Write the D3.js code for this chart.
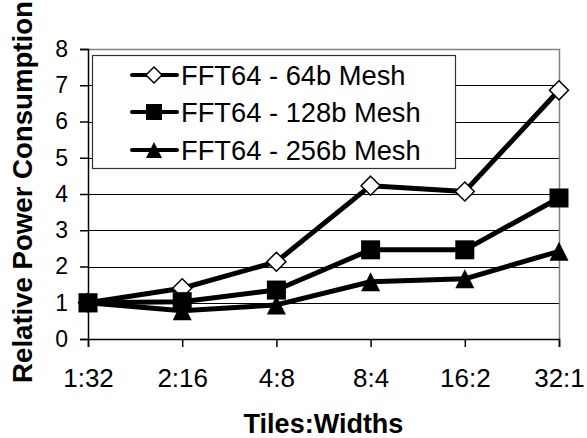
<!DOCTYPE html>
<html>
<head>
<meta charset="utf-8">
<script src="https://cdn.jsdelivr.net/npm/d3@7"></script>
<style>
  body { margin: 0; background: #fff; }
  svg { font-family: Arial, "Liberation Sans", sans-serif; }
</style>
</head>
<body>
<div id="chart"></div>
<script>
var svgWidth = 587;
var svgHeight = 438;

var margin = { top: 49, right: 28, bottom: 99, left: 88 };
var width = svgWidth - margin.left - margin.right;
var height = svgHeight - margin.top - margin.bottom;

// Data
var categories = ["1:32", "2:16", "4:8", "8:4", "16:2", "32:1"];
var mesh64 = [1, 1.4, 2.13, 4.23, 4.07, 6.86];
var mesh128 = [1, 1.03, 1.35, 2.46, 2.46, 3.89];
var mesh256 = [1, 0.78, 0.94, 1.58, 1.66, 2.42];
var yTicks = [0, 1, 2, 3, 4, 5, 6, 7, 8];

var series = [
    { name: "FFT64 - 64b Mesh", values: mesh64, marker: "diamond" },
    { name: "FFT64 - 128b Mesh", values: mesh128, marker: "square" },
    { name: "FFT64 - 256b Mesh", values: mesh256, marker: "triangle" }
];

var svg = d3.select("#chart")
    .append("svg")
    .attr("width", svgWidth)
    .attr("height", svgHeight);

var chartGroup = svg.append("g")
    .attr("transform", `translate(${margin.left}, ${margin.top})`);

var xScale = d3.scalePoint()
    .domain(categories)
    .range([0, width]);

var yScale = d3.scaleLinear()
    .domain([0, 8])
    .range([height, 0]);

// gridlines
chartGroup.append("g")
    .selectAll("line")
    .data(yTicks.filter(d => d > 0 && d < 8))
    .enter()
    .append("line")
    .attr("x1", 0)
    .attr("x2", width)
    .attr("y1", d => Math.round(yScale(d)) + 0.5)
    .attr("y2", d => Math.round(yScale(d)) + 0.5)
    .attr("stroke", "#000")
    .attr("stroke-width", 1);

// plot border (top and right, gray)
chartGroup.append("path")
    .attr("d", `M0,${Math.round(yScale(8)) + 0.5}H${width + 0.5}V${height}`)
    .attr("fill", "none")
    .attr("stroke", "#808080")
    .attr("stroke-width", 1.5);

// axes
var leftAxis = d3.axisLeft(yScale).tickValues(yTicks).tickSize(8).tickPadding(12);
var bottomAxis = d3.axisBottom(xScale).tickSize(8).tickPadding(22);

var yAxisG = chartGroup.append("g").call(leftAxis);
var xAxisG = chartGroup.append("g")
    .attr("transform", `translate(0, ${height})`)
    .call(bottomAxis);

[yAxisG, xAxisG].forEach(function(g) {
    g.select(".domain").attr("stroke", "#000").attr("stroke-width", 1.5);
    g.selectAll(".tick line").attr("stroke", "#000").attr("stroke-width", 1.5);
    g.selectAll("text").attr("fill", "#000").attr("font-family", "Arial, 'Liberation Sans', sans-serif");
});
yAxisG.selectAll("text").attr("font-size", "23px");
xAxisG.selectAll("text").attr("font-size", "26px");
yAxisG.selectAll(".tick line").attr("x1", 0);

// marker shapes
function drawMarker(g, type, size) {
    var h = size / 2;
    if (type === "diamond") {
        g.append("path")
            .attr("d", `M0,${-h}L${h},0L0,${h}L${-h},0Z`)
            .attr("fill", "#fff")
            .attr("stroke", "#000")
            .attr("stroke-width", 1.5);
    } else if (type === "square") {
        g.append("rect")
            .attr("x", -h).attr("y", -h)
            .attr("width", size).attr("height", size)
            .attr("fill", "#000");
    } else {
        g.append("path")
            .attr("d", `M0,${-h}L${h},${h}L${-h},${h}Z`)
            .attr("fill", "#000");
    }
}

var line = d3.line()
    .x((d, i) => xScale(categories[i]))
    .y(d => yScale(d));

series.forEach(function(s) {
    chartGroup.append("path")
        .datum(s.values)
        .attr("d", line)
        .attr("fill", "none")
        .attr("stroke", "#000")
        .attr("stroke-width", 5)
        .attr("stroke-linejoin", "round");

    s.values.forEach(function(v, i) {
        var g = chartGroup.append("g")
            .attr("transform", `translate(${xScale(categories[i])}, ${yScale(v)})`);
        drawMarker(g, s.marker, 19);
    });
});

// legend
var legend = svg.append("g");
legend.append("rect")
    .attr("x", 92.5)
    .attr("y", 55.5)
    .attr("width", 363)
    .attr("height", 113)
    .attr("fill", "#fff")
    .attr("stroke", "#333")
    .attr("stroke-width", 1.2);

var legendRows = [75, 112, 150];
series.forEach(function(s, i) {
    var row = legend.append("g")
        .attr("transform", `translate(0, ${legendRows[i]})`);
    row.append("line")
        .attr("x1", 132).attr("x2", 177)
        .attr("y1", 0).attr("y2", 0)
        .attr("stroke", "#000")
        .attr("stroke-width", 4)
        .attr("stroke-linecap", "round");
    var m = row.append("g").attr("transform", "translate(154, 0)");
    drawMarker(m, s.marker, 16);
    row.append("text")
        .attr("x", 181)
        .attr("y", 0)
        .attr("dy", "0.36em")
        .attr("font-size", "27.3px")
        .text(s.name);
});

// axis titles
svg.append("text")
    .attr("transform", `translate(32, 192) rotate(-90)`)
    .attr("text-anchor", "middle")
    .attr("font-size", "27.6px")
    .attr("font-weight", "bold")
    .text("Relative Power Consumption");

svg.append("text")
    .attr("x", margin.left + width / 2)
    .attr("y", 433)
    .attr("text-anchor", "middle")
    .attr("font-size", "27px")
    .attr("font-weight", "bold")
    .text("Tiles:Widths");
</script>
</body>
</html>
